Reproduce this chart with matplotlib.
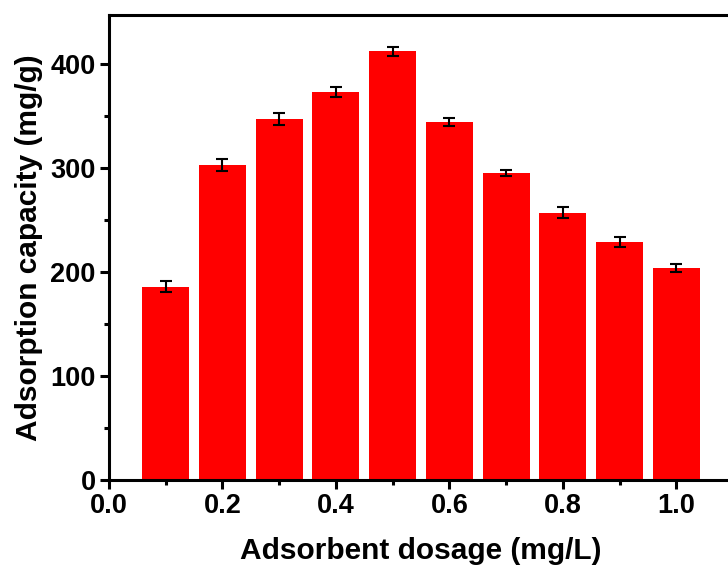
import matplotlib
matplotlib.use("Agg")
import matplotlib.pyplot as plt
from matplotlib.ticker import MultipleLocator

dosage = [0.1, 0.2, 0.3, 0.4, 0.5, 0.6, 0.7, 0.8, 0.9, 1.0]
capacity = [186, 303, 347, 373, 412, 344, 295, 257, 229, 204]
errors = [5, 6, 6, 5, 4, 4, 3, 5, 5, 4]

plt.rcParams.update({"font.family": ["Liberation Sans", "DejaVu Sans"],
                     "font.weight": "bold"})

fig = plt.figure(figsize=(7.28, 5.65), dpi=100)
ax = fig.add_axes([109 / 728, 85 / 565, 624 / 728, 465 / 565])

ax.bar(dosage, capacity, width=0.083, color="#ff0000", edgecolor="none",
       yerr=errors, ecolor="black", capsize=4,
       error_kw={"elinewidth": 1.5, "capthick": 1.5})

ax.set_xlim(0, 1.1)
ax.set_ylim(0, 447)
ax.xaxis.set_minor_locator(MultipleLocator(0.1))
ax.yaxis.set_major_locator(MultipleLocator(100))
ax.yaxis.set_minor_locator(MultipleLocator(50))
ax.set_xticks([0.0, 0.2, 0.4, 0.6, 0.8, 1.0])
ax.set_xticklabels(["0.0", "0.2", "0.4", "0.6", "0.8", "1.0"])

for s in ax.spines.values():
    s.set_linewidth(2.2)
ax.tick_params(which="major", direction="out", length=6.5, width=2.2,
               labelsize=19.5, pad=3)
ax.tick_params(which="minor", direction="out", length=3.5, width=2.2)
for lab in ax.get_xticklabels() + ax.get_yticklabels():
    lab.set_fontweight("bold")

ax.set_xlabel("Adsorbent dosage (mg/L)", fontsize=21.5, fontweight="bold", labelpad=13)
ax.set_ylabel("Adsorption capacity (mg/g)", fontsize=21.5, fontweight="bold", labelpad=5)

fig.savefig("out.png", dpi=100)
